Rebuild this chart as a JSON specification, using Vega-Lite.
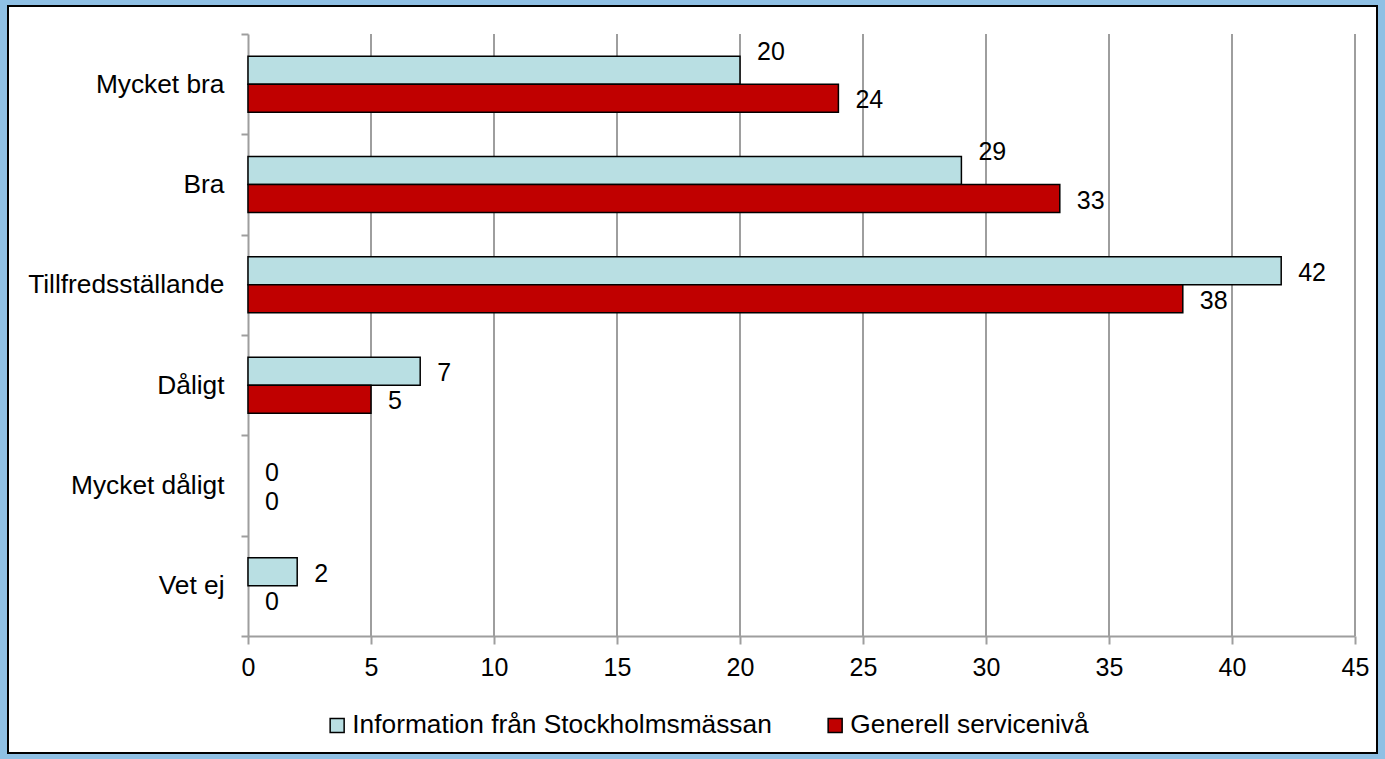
{
  "$schema": "https://vega.github.io/schema/vega-lite/v6.json",
  "width": 1369,
  "height": 747,
  "autosize": {"type": "none"},
  "padding": {"left": 8, "top": 6, "right": 8, "bottom": 6},
  "background": "#8FC0E4",
  "config": {
    "view": {"fill": "white", "stroke": "black", "strokeWidth": 2},
    "font": "Liberation Sans"
  },
  "datasets": {
    "grid": [{"value": 5}, {"value": 10}, {"value": 15}, {"value": 20}, {"value": 25}, {"value": 30}, {"value": 35}, {"value": 40}, {"value": 45}],
    "survey": [
      {"category": "Mycket bra", "series": "Information från Stockholmsmässan", "value": 20},
      {"category": "Mycket bra", "series": "Generell servicenivå", "value": 24},
      {"category": "Bra", "series": "Information från Stockholmsmässan", "value": 29},
      {"category": "Bra", "series": "Generell servicenivå", "value": 33},
      {"category": "Tillfredsställande", "series": "Information från Stockholmsmässan", "value": 42},
      {"category": "Tillfredsställande", "series": "Generell servicenivå", "value": 38},
      {"category": "Dåligt ", "series": "Information från Stockholmsmässan", "value": 7},
      {"category": "Dåligt ", "series": "Generell servicenivå", "value": 5},
      {"category": "Mycket dåligt", "series": "Information från Stockholmsmässan", "value": 0},
      {"category": "Mycket dåligt", "series": "Generell servicenivå", "value": 0},
      {"category": "Vet ej", "series": "Information från Stockholmsmässan", "value": 2},
      {"category": "Vet ej", "series": "Generell servicenivå", "value": 0}
    ]
  },
  "layer": [
    {
      "data": {"name": "grid"},
      "mark": {"type": "rule", "color": "#9E9E9E", "strokeWidth": 2},
      "encoding": {
        "x": {
          "field": "value", "type": "quantitative",
          "scale": {"domain": [0, 45], "range": [240, 1347], "nice": false, "zero": true},
          "axis": {"orient": "bottom", "offset": -117, "values": [0, 5, 10, 15, 20, 25, 30, 35, 40, 45], "title": null, "grid": false, "domainColor": "#9E9E9E", "domainWidth": 2, "tickColor": "#9E9E9E", "tickWidth": 2, "tickSize": 8, "labelFontSize": 25, "labelColor": "black", "labelPadding": 11, "labelFlush": false, "labelFont": "Liberation Sans"}
        },
        "y": {"datum": 0, "type": "quantitative", "scale": {"domain": [0, 1], "range": [28, 630]}, "axis": null},
        "y2": {"datum": 1}
      }
    },
    {
      "data": {"name": "survey"},
      "encoding": {
        "x": {
          "field": "value", "type": "quantitative",
          "scale": {"domain": [0, 45], "range": [240, 1347], "nice": false, "zero": true},
          "axis": {"orient": "bottom", "offset": -117, "values": [0, 5, 10, 15, 20, 25, 30, 35, 40, 45], "title": null, "grid": false, "domainColor": "#9E9E9E", "domainWidth": 2, "tickColor": "#9E9E9E", "tickWidth": 2, "tickSize": 8, "labelFontSize": 25, "labelColor": "black", "labelPadding": 11, "labelFlush": false, "labelFont": "Liberation Sans"}
        },
        "y": {
          "field": "category", "type": "nominal",
          "sort": ["Mycket bra", "Bra", "Tillfredsställande", "Dåligt ", "Mycket dåligt", "Vet ej"],
          "scale": {"range": [28, 630], "paddingInner": 0, "paddingOuter": 0},
          "axis": {"orient": "left", "offset": -240, "title": null, "grid": false, "tickBand": "extent", "domainColor": "#9E9E9E", "domainWidth": 2, "tickColor": "#9E9E9E", "tickWidth": 2, "tickSize": 7, "labelFontSize": 26.3, "labelColor": "black", "labelPadding": 17, "labelLimit": 0, "labelFont": "Liberation Sans"}
        },
        "yOffset": {
          "field": "series", "type": "nominal",
          "sort": ["Information från Stockholmsmässan", "Generell servicenivå"],
          "scale": {"paddingInner": 0, "paddingOuter": 0.79}
        }
      },
      "layer": [
        {
          "transform": [{"filter": "datum.value > 0"}],
          "mark": {"type": "bar", "stroke": "black", "strokeWidth": 1.5},
          "encoding": {
            "color": {
              "field": "series", "type": "nominal",
              "scale": {"domain": ["Information från Stockholmsmässan", "Generell servicenivå"], "range": ["#B9DFE3", "#C00000"]},
              "legend": {"orient": "none", "legendX": 316, "legendY": 706, "direction": "horizontal", "title": null, "symbolType": "square", "symbolSize": 196, "symbolStrokeColor": "black", "symbolStrokeWidth": 1.5, "symbolOpacity": 1, "labelFontSize": 26.3, "labelColor": "black", "labelOffset": 2, "columnPadding": 50, "padding": 0, "labelFont": "Liberation Sans", "labelLimit": 0}
            }
          }
        },
        {
          "transform": [{"filter": "!(datum.series === 'Information från Stockholmsmässan' && (datum.category === 'Mycket bra' || datum.category === 'Bra'))"}],
          "mark": {"type": "text", "align": "left", "baseline": "middle", "dx": 17, "dy": 2, "fontSize": 25, "color": "black"},
          "encoding": {"text": {"field": "value", "type": "quantitative"}}
        },
        {
          "transform": [{"filter": "datum.series === 'Information från Stockholmsmässan' && (datum.category === 'Mycket bra' || datum.category === 'Bra')"}],
          "mark": {"type": "text", "align": "left", "baseline": "middle", "dx": 17, "dy": -18, "fontSize": 25, "color": "black"},
          "encoding": {"text": {"field": "value", "type": "quantitative"}}
        }
      ]
    }
  ],
  "resolve": {"scale": {"y": "independent"}}
}
